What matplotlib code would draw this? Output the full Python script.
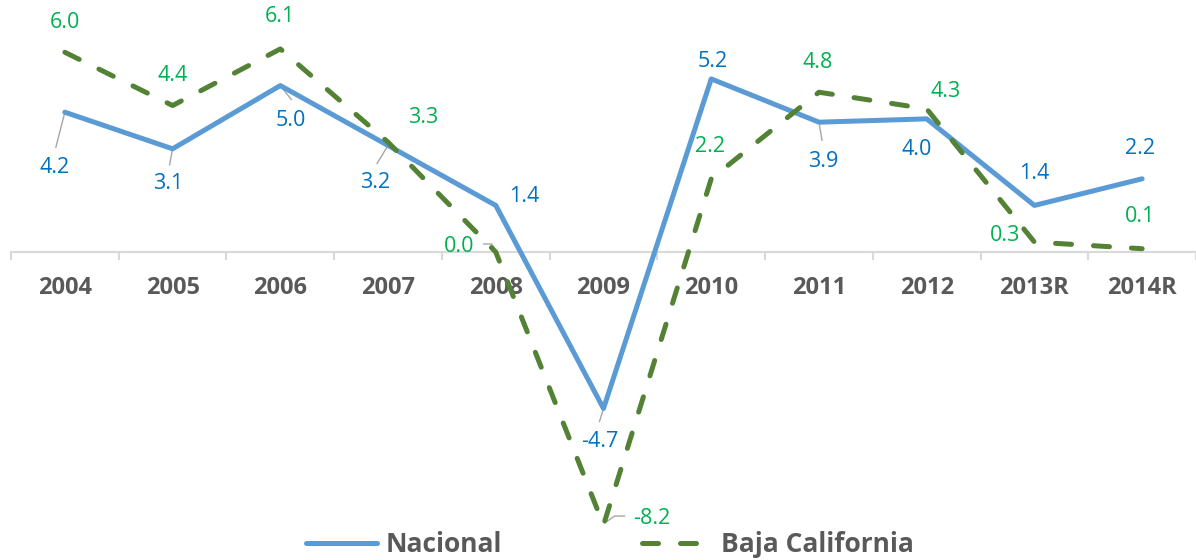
import matplotlib
matplotlib.use("Agg")
import matplotlib.pyplot as plt
import matplotlib.transforms as mtransforms
from matplotlib.lines import Line2D

categories = ["2004", "2005", "2006", "2007", "2008", "2009", "2010", "2011", "2012", "2013R", "2014R"]
nacional = [4.2, 3.1, 5.0, 3.2, 1.4, -4.7, 5.2, 3.9, 4.0, 1.4, 2.2]
baja_california = [6.0, 4.4, 6.1, 3.3, 0.0, -8.2, 2.2, 4.8, 4.3, 0.3, 0.1]

# label offsets in pixels (dx right, dy down) from each point
nac_off = [(-10, 55), (-4, 35), (10, 35), (-13, 37), (28, -9), (-4, 33),
           (1, -17), (4, 39), (-10, 31), (0, -32), (-2, -30)]
bc_off = [(0, -30), (0, -30), (0, -32), (35, -25), (-37, -6), (48, -7),
          (-1, -32), (-1, -30), (19, -17), (-29, -7), (-2, -32)]
# leader polylines (pixel offsets from point)
nac_lead = {0: [(0, 0), (-9, 35)], 1: [(0, 0), (-3, 16)], 2: [(0, 0), (11, 14)],
            3: [(0, 0), (-11, 18)], 5: [(0, 0), (-4, 13)], 7: [(0, 0), (3, 18)]}
bc_lead = {4: [(-12, -8), (-4, -8), (0, -1)], 5: [(1, -2), (11, -9), (21, -9)]}

BLUE = "#5B9BD5"
GREEN = "#548235"
BLUE_TXT = "#0070C0"
GREEN_TXT = "#00B050"
GREY_TXT = "#595959"
AXIS = "#D9D9D9"
LEAD = "#A6A6A6"

fig = plt.figure(figsize=(11.96, 5.6), dpi=100)
ax = fig.add_axes([11 / 1196, 0, 1185 / 1196, 1])
x = list(range(len(categories)))

ax.plot(x, nacional, color=BLUE, lw=3.6, solid_joinstyle="round",
        solid_capstyle="round", zorder=3, label="Nacional")
ax.plot(x, baja_california, color=GREEN, lw=3.6, dashes=(3.2, 4.4),
        dash_capstyle="round", zorder=4, label="Baja California")

ax.set_xlim(-0.5, 10.42)
ax.set_ylim(-9.25, 7.57)

for s in ["top", "left", "right"]:
    ax.spines[s].set_visible(False)
ax.spines["bottom"].set_position(("data", 0))
ax.spines["bottom"].set_color(AXIS)
ax.spines["bottom"].set_linewidth(1.5)
ax.set_yticks([])

ax.set_xticks([i + 0.5 for i in range(-1, len(categories))])
ax.set_xticklabels([])
ax.tick_params(axis="x", which="major", length=6, width=1.5, color=AXIS, direction="out")
ax.set_xticks(x, minor=True)
ax.set_xticklabels(categories, minor=True, fontfamily="Open Sans",
                   fontweight="bold", fontsize=17, color=GREY_TXT)
ax.tick_params(axis="x", which="minor", length=0, pad=17)

lbl_font = dict(fontfamily="Open Sans", fontsize=15.5)


def leader(i, v, pts):
    tr = mtransforms.IdentityTransform() + mtransforms.ScaledTranslation(i, v, ax.transData)
    ax.plot([p[0] for p in pts], [-p[1] for p in pts], color=LEAD, lw=1.0,
            transform=tr, zorder=2, clip_on=False)


for i, v in enumerate(nacional):
    dx, dy = nac_off[i]
    ax.annotate(f"{v:.1f}", (i, v), xytext=(dx, -dy), textcoords="offset pixels",
                ha="center", va="center", color=BLUE_TXT, zorder=5, **lbl_font)
    if i in nac_lead:
        leader(i, v, nac_lead[i])

for i, v in enumerate(baja_california):
    dx, dy = bc_off[i]
    ax.annotate(f"{v:.1f}", (i, v), xytext=(dx, -dy), textcoords="offset pixels",
                ha="center", va="center", color=GREEN_TXT, zorder=5, **lbl_font)
    if i in bc_lead:
        leader(i, v, bc_lead[i])

handles = [Line2D([], [], color=BLUE, lw=3.6, solid_capstyle="round"),
           Line2D([], [], color=GREEN, lw=3.6, dashes=(3.2, 4.4), dash_capstyle="round")]
leg = fig.legend(handles, ["Nacional", "Baja California"], loc="center",
                 bbox_to_anchor=(0.51, 0.027), ncol=2, frameon=False,
                 handlelength=2.7, handletextpad=0.3, columnspacing=5.3,
                 prop=dict(family="Open Sans", weight="bold", size=19))
for t in leg.get_texts():
    t.set_color(GREY_TXT)

fig.savefig("out.png", dpi=100)
